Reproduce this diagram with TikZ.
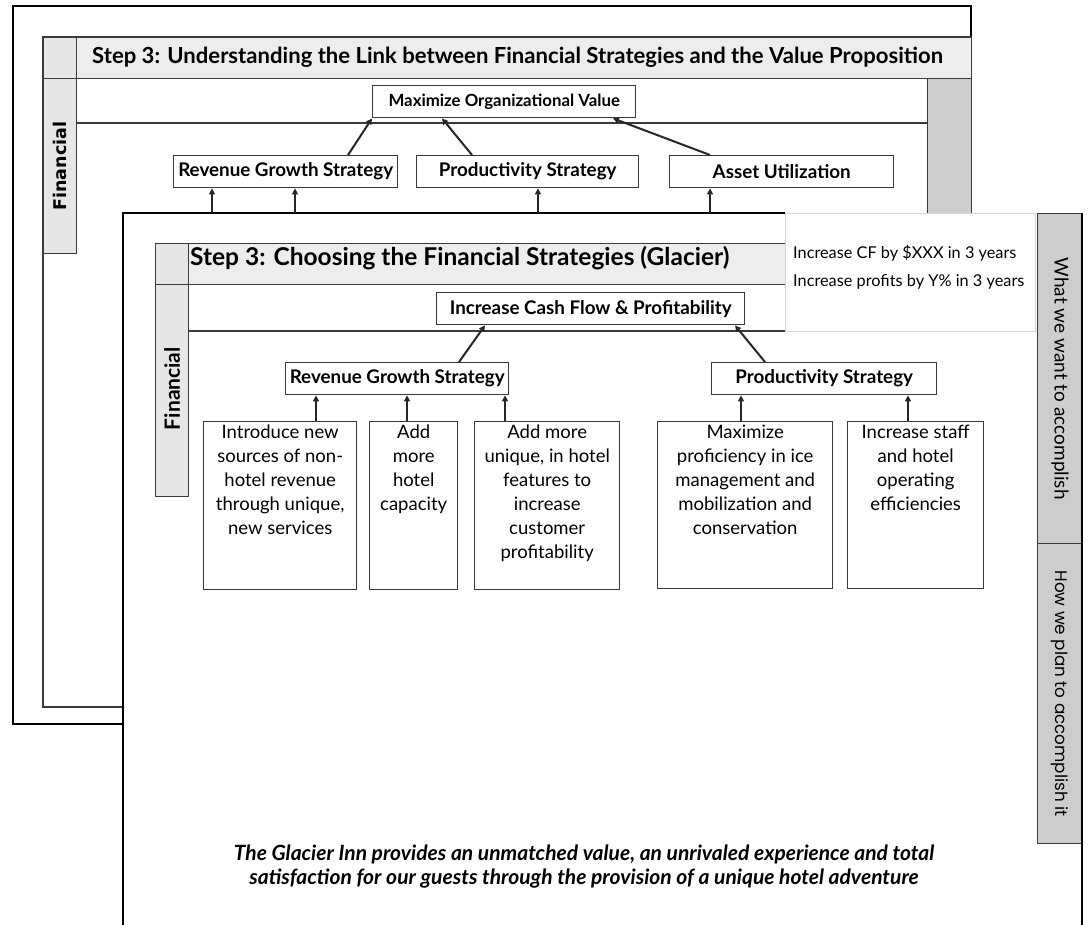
\documentclass[tikz,border=0pt]{standalone}
\usepackage{fontspec}
\setmainfont{Lato}
\newfontfamily\widesans{DejaVu Sans}
\newfontfamily\roundsans{Poppins}
\usetikzlibrary{arrows.meta}

\definecolor{edge}{HTML}{3A3A3A}
\definecolor{headfill}{HTML}{EDEDED}
\definecolor{barfill}{HTML}{E6E6E6}
\definecolor{tabfill}{HTML}{CDCDCD}
\definecolor{softedge}{HTML}{D6D6D6}

\begin{document}
\begin{tikzpicture}[x=1pt,y=-1pt,
  box/.style={draw=edge,line width=1.4pt,fill=white,inner sep=0pt,anchor=north west},
  band/.style={draw=edge,line width=1.2pt,inner sep=0pt,anchor=north west},
  strat/.style={inner sep=0pt,font=\bfseries\fontsize{18.8}{22}\selectfont},
  boxtext/.style={inner sep=0pt,anchor=north,align=center,font=\fontsize{18.5}{24}\selectfont},
  headtext/.style={inner sep=0pt,anchor=west,font=\bfseries\fontsize{24.5}{28}\selectfont},
  arr/.style={line width=2pt,draw=black!85,-{Triangle[length=6pt,width=6pt]}},
  tabtext/.style={inner sep=0pt,rotate=-90}
]
\path[use as bounding box] (0,0) rectangle (1088,925);

% ---------- rear sheet ----------
\draw[line width=2pt,black] (13,6) rectangle (971,724);
\draw[line width=1.2pt,edge] (43,37) rectangle (971,707);
\node[band,fill=barfill,minimum width=33,minimum height=41] (bcorner) at (43,37) {};
\node[band,fill=headfill,minimum width=895,minimum height=41] (bhead) at (76,37) {};
\node[headtext,font=\bfseries\fontsize{22.1}{25}\selectfont] (bheadtxt) at (92,57)
  {Step 3: Understanding the Link between Financial Strategies and the Value Proposition};
\node[band,fill=barfill,minimum width=33,minimum height=175] (bfin) at (43,78) {};
\node[rotate=90,inner sep=0pt,font=\widesans\bfseries\fontsize{17.5}{20}\selectfont] (bfintxt) at (bfin.center) {Financial};
\node[band,fill=tabfill,minimum width=44,minimum height=646] (bgrey) at (927,78) {};
\draw[line width=1.2pt,edge] (bfin.north east |- 0,123) -- (bgrey.west |- 0,123);

\node[box,minimum width=263,minimum height=32] (maxv) at (372,85) {};
\node[strat,font=\bfseries\fontsize{16.8}{20}\selectfont] (maxvtxt) at (maxv.center) {Maximize Organizational Value};
\node[box,minimum width=224,minimum height=32] (brgs) at (173,155) {};
\node[strat] (brgstxt) at (brgs.center) {Revenue Growth Strategy};
\node[box,minimum width=222,minimum height=32] (bps) at (416,155) {};
\node[strat] (bpstxt) at (bps.center) {Productivity Strategy};
\node[box,minimum width=224,minimum height=32] (bau) at (669,155) {};
\node[strat] (bautxt) at (bau.center) {Asset Utilization};

\draw[arr] ([xshift=175pt]brgs.north west) -- (maxv.south west);
\draw[arr] ([xshift=56pt]bps.north west) -- ([xshift=70pt]maxv.south west);
\draw[arr] ([xshift=41pt]bau.north west) -- ([xshift=241pt]maxv.south west);

% ---------- front sheet ----------
\path[fill=white] (123,213) rectangle (1082,930);
\coordinate (ftop) at (123,213);
\draw[line width=2.4pt,black] (123,930) -- (ftop) -- (785,213);

% connectors rising from the front sheet into the rear strategies
\draw[arr] ([xshift=89pt]ftop) -- ([xshift=39pt]brgs.south west);
\draw[arr] ([xshift=172pt]ftop) -- ([xshift=122pt]brgs.south west);
\draw[arr] ([xshift=415pt]ftop) -- ([xshift=122pt]bps.south west);
\draw[arr] ([xshift=587pt]ftop) -- ([xshift=41pt]bau.south west);

\node[band,fill=barfill,minimum width=33,minimum height=41] (fcorner) at (155,243) {};
\node[band,fill=headfill,minimum width=630,minimum height=41] (fhead) at (188,243) {};
\node[headtext] (fheadtxt) at (190,258) {Step 3: Choosing the Financial Strategies (Glacier)};
\node[band,fill=barfill,minimum width=33,minimum height=212] (ffin) at (155,284) {};
\node[rotate=90,inner sep=0pt,font=\bfseries\fontsize{21}{24}\selectfont] (ffintxt) at ([yshift=2pt]ffin.center) {Financial};
\draw[line width=1.2pt,edge] (ffin.north east |- 0,331) -- (785,331);

\node[box,minimum width=308,minimum height=32] (inc) at (436,292) {};
\node[strat] (inctxt) at (inc.center) {Increase Cash Flow \& Profitability};
\node[box,minimum width=223,minimum height=32] (frgs) at (285,362) {};
\node[strat] (frgstxt) at (frgs.center) {Revenue Growth Strategy};
\node[box,minimum width=225,minimum height=32] (fps) at (711,362) {};
\node[strat] (fpstxt) at (fps.center) {Productivity Strategy};

\draw[arr] ([xshift=174pt]frgs.north west) -- ([xshift=49pt]inc.south west);
\draw[arr] ([xshift=54pt]fps.north west) -- ([xshift=299pt]inc.south west);

% action boxes
\node[box,minimum width=153,minimum height=168] (b1) at (203,421) {};
\node[boxtext] (b1t) at ([yshift=-4pt]b1.north) {Introduce new\\sources of non-\\hotel revenue\\through unique,\\new services};
\node[box,minimum width=88,minimum height=168] (b2) at (369,421) {};
\node[boxtext] (b2t) at ([yshift=-4pt]b2.north) {Add\\more\\hotel\\capacity};
\node[box,minimum width=145,minimum height=168] (b3) at (474,421) {};
\node[boxtext] (b3t) at ([yshift=-4pt]b3.north) {Add more\\unique, in hotel\\features to\\increase\\customer\\profitability};
\node[box,minimum width=175,minimum height=167] (b4) at (657,421) {};
\node[boxtext] (b4t) at ([yshift=-4pt]b4.north) {Maximize\\proficiency in ice\\management and\\mobilization and\\conservation};
\node[box,minimum width=136,minimum height=167] (b5) at (847,421) {};
\node[boxtext] (b5t) at ([yshift=-4pt]b5.north) {Increase staff\\and hotel\\operating\\efficiencies};

\draw[arr] ([xshift=113pt]b1.north west) -- ([xshift=113pt]b1.north west |- frgs.south);
\draw[arr] ([xshift=38pt]b2.north west) -- ([xshift=38pt]b2.north west |- frgs.south);
\draw[arr] ([xshift=31pt]b3.north west) -- ([xshift=31pt]b3.north west |- frgs.south);
\draw[arr] ([xshift=84pt]b4.north west) -- ([xshift=84pt]b4.north west |- fps.south);
\draw[arr] ([xshift=61pt]b5.north west) -- ([xshift=61pt]b5.north west |- fps.south);

% targets callout
\node[draw=softedge,line width=1.2pt,fill=white,inner sep=0pt,anchor=north west,
      minimum width=250,minimum height=118] (goal) at (785,213) {};
\node[inner sep=0pt,anchor=west,align=left,font=\fontsize{16.3}{28}\selectfont] (goaltxt) at (793,267)
  {Increase CF by \$XXX in 3 years\\Increase profits by Y\% in 3 years};

% side tabs
\node[band,fill=tabfill,minimum width=45,minimum height=330] (tabwant) at (1037,213) {};
\node[tabtext,font=\fontsize{19}{22}\selectfont] (tabwanttxt) at (tabwant.center) {What we want to accomplish};
\node[band,fill=tabfill,minimum width=45,minimum height=300] (tabplan) at (1037,543) {};
\node[tabtext,font=\roundsans\fontsize{16.8}{20}\selectfont] (tabplantxt) at (tabplan.center) {How we plan to accomplish it};
\draw[line width=2.4pt,black] (1082,213) -- (1082,930);

% value proposition
\node[inner sep=0pt,align=center,font=\bfseries\itshape\fontsize{21}{24}\selectfont] (vp) at (584,867)
  {The Glacier Inn provides an unmatched value, an unrivaled experience and total\\satisfaction for our guests through the provision of a unique hotel adventure};
\end{tikzpicture}
\end{document}
